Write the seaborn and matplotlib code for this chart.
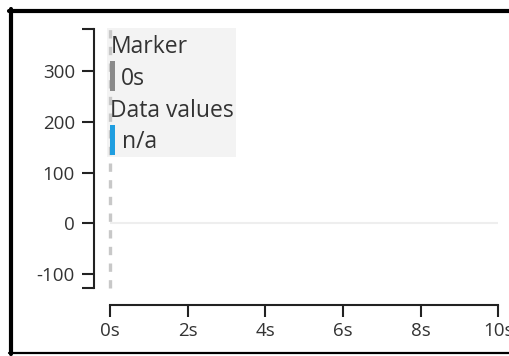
import matplotlib
matplotlib.use("Agg")
import matplotlib.pyplot as plt
from matplotlib.patches import Rectangle
from matplotlib.lines import Line2D
import seaborn as sns

# data
marker_times = [0]
marker_labels = ["0s"]
data_times = []
data_values = []
data_label = "n/a"
x_ticks = [0, 2, 4, 6, 8, 10]
x_tick_labels = ["0s", "2s", "4s", "6s", "8s", "10s"]
y_ticks = [-100, 0, 100, 200, 300]
y_range = [-128, 382]
x_range = [0, 10]

W, H = 509, 356

sns.set_theme(style="ticks")
plt.rcParams['font.family'] = ['Open Sans', 'DejaVu Sans']
plt.rcParams['lines.scale_dashes'] = False


def fx(px):
    return px / W


def fy(py):
    return 1 - py / H


fig = plt.figure(figsize=(W / 100, H / 100), dpi=100)
fig.patch.set_facecolor("white")
ax = fig.add_axes([fx(110), fy(288.3), (498.3 - 110) / W, (288.3 - 29.3) / H])
ax.set_facecolor("none")

# zero line
ax.axhline(0, color="#eeeeee", lw=1.5, zorder=1)

# data values (none here)
if data_values:
    sns.lineplot(x=data_times, y=data_values, ax=ax, color="#1f9ee0")

# markers
for t in marker_times:
    ax.axvline(t, color="#c8c8c8", lw=2.4, linestyle=(0, (6, 6)),
               clip_on=False, zorder=3)

ax.set_xlim(x_range)
ax.set_ylim(y_range)
ax.set_xticks(x_ticks)
ax.set_xticklabels(x_tick_labels)
ax.set_yticks(y_ticks)
ax.set_yticks(y_range, minor=True)
ax.set_yticklabels([str(v) for v in y_ticks])

sns.despine(ax=ax, offset={"left": 11.3, "bottom": 12})
for s in ["left", "bottom"]:
    ax.spines[s].set_color("#222222")
    ax.spines[s].set_linewidth(1.5)
ax.tick_params(axis="both", which="both", length=8.5, width=1.5,
               color="#222222", labelsize=13.5, labelcolor="#333333")
ax.tick_params(axis="y", pad=5.5)
ax.tick_params(axis="x", pad=3.5)
ax.tick_params(axis="y", which="minor", labelleft=False)

# legend box
fig.add_artist(Rectangle((fx(107), fy(157)), (236 - 107) / W, (157 - 28) / H,
                         transform=fig.transFigure, facecolor="#f3f3f3",
                         edgecolor="none", zorder=0))
fig.add_artist(Rectangle((fx(110), fy(91)), 5 / W, 30 / H,
                         transform=fig.transFigure, facecolor="#8a8a8a",
                         edgecolor="none", zorder=4))
fig.add_artist(Rectangle((fx(110), fy(155)), 5 / W, 30 / H,
                         transform=fig.transFigure, facecolor="#1f9ee0",
                         edgecolor="none", zorder=4))
txt = dict(transform=fig.transFigure, fontsize=16.5, color="#333333",
           va="baseline", ha="left", zorder=5)
fig.text(fx(111), fy(53), "Marker", **txt)
fig.text(fx(120.5), fy(85), marker_labels[0], **txt)
fig.text(fx(110), fy(117), "Data values", **txt)
fig.text(fx(121.5), fy(148), data_label, **txt)

# outer frame
fig.add_artist(Line2D([fx(10.5), fx(10.5)], [fy(9), fy(354)],
                      transform=fig.transFigure, color="black", lw=3))
fig.add_artist(Line2D([fx(9), fx(509)], [fy(10.5), fy(10.5)],
                      transform=fig.transFigure, color="black", lw=3))
fig.add_artist(Line2D([fx(9), fx(509)], [fy(353), fy(353)],
                      transform=fig.transFigure, color="black", lw=1.6))

fig.savefig("out.png", dpi=100)
